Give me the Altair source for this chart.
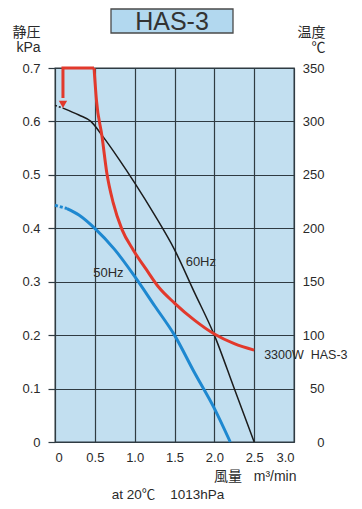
import altair as alt
import pandas as pd

# ---- data ----
flow_black_dot = [0.0, 0.1]
kpa_black_dot = [0.63, 0.625]
flow_black = [0.1, 0.3, 0.45, 0.6, 0.8, 1.0, 1.25, 1.5, 1.75, 2.0, 2.25, 2.5]
kpa_black = [0.625, 0.612, 0.6, 0.572, 0.53, 0.485, 0.425, 0.36, 0.28, 0.2, 0.1, 0.0]

flow_blue_dot = [0.0, 0.15]
kpa_blue_dot = [0.443, 0.437]
flow_blue = [0.15, 0.3, 0.5, 0.75, 1.0, 1.25, 1.5, 1.75, 2.0, 2.2]
kpa_blue = [0.437, 0.425, 0.4, 0.36, 0.31, 0.255, 0.2, 0.13, 0.063, 0.0]

flow_red = [0.49, 0.52, 0.59, 0.65, 0.73, 0.84, 0.98, 1.15, 1.3, 1.5, 1.75, 2.0, 2.25, 2.5]
temp_red = [350, 320, 286, 252, 224, 199, 180, 161, 145, 130, 114, 101, 92, 86]

flow_arrow = [0.1, 0.1, 0.49]
temp_arrow = [322, 350, 350]
arrow_tip_flow = [0.1]
arrow_tip_temp = [316]

x_ticks = [0, 0.5, 1.0, 1.5, 2.0, 2.5, 3.0]
y_ticks = [0, 0.1, 0.2, 0.3, 0.4, 0.5, 0.6, 0.7]
t_ticks = [0, 50, 100, 150, 200, 250, 300, 350]

SP = "\u00a0"
FONT = "Liberation Sans, Noto Sans CJK JP, sans-serif"
BG = "#c2dff0"
GRID = "#2f3b42"
TXT = "#2a2a2a"
RED = "#e2392c"
BLUE = "#1e88d0"
BLACK = "#1c1c1c"

xscale = alt.Scale(domain=[0, 3.0], nice=False, zero=False)
yscale = alt.Scale(domain=[0, 0.7], nice=False)
tscale = alt.Scale(domain=[0, 350], nice=False)

xaxis = alt.Axis(
    values=x_ticks,
    labelExpr="datum.value == 0 ? '0' : format(datum.value, '.1f')",
    grid=True, gridColor=GRID, gridWidth=1.2, gridOpacity=1,
    domain=False, ticks=False, labelPadding=9,
    labelFont=FONT, labelFontSize=13, labelColor=TXT,
    title="風量" + SP * 3 + "m³/min", titleFont=FONT, titleFontSize=14, titleFontWeight="normal",
    titleColor=TXT, titleAlign="right", titleAnchor="start", titleX=241, titleY=27,
    titleBaseline="top",
)
yaxis = alt.Axis(
    values=y_ticks,
    labelExpr="datum.value == 0 ? '0' : format(datum.value, '.1f')",
    grid=True, gridColor=GRID, gridWidth=1.2, gridOpacity=1,
    domain=False, ticks=True, tickSize=7, tickColor=GRID, tickWidth=1.2,
    labelPadding=8, labelFont=FONT, labelFontSize=13, labelColor=TXT,
    title=["静圧", "kPa"], titleFont=FONT, titleFontSize=14, titleFontWeight="normal",
    titleColor=TXT, titleAngle=0, titleAlign="right", titleBaseline="top",
    titleX=-15, titleY=-43, titleLineHeight=15,
)
taxis = alt.Axis(
    orient="right", values=t_ticks, grid=False, domain=False, ticks=False,
    labelAlign="right", labelPadding=30, labelFont=FONT, labelFontSize=13,
    labelColor=TXT,
    title=["温度", "℃"], titleFont=FONT, titleFontSize=14, titleFontWeight="normal",
    titleColor=TXT, titleAngle=0, titleAlign="right", titleBaseline="top",
    titleX=31, titleY=-43, titleLineHeight=15,
)


def seg(xs, ys, key):
    return pd.DataFrame({"flow": xs, key: ys, "i": list(range(len(xs)))})


X = alt.X("flow:Q", scale=xscale, axis=xaxis)

black_dot = alt.Chart(seg(flow_black_dot, kpa_black_dot, "kpa")).mark_line(
    color=BLACK, strokeWidth=1.5, strokeDash=[2, 2]
).encode(x=X, y=alt.Y("kpa:Q", scale=yscale, axis=yaxis), order="i:Q")
black = alt.Chart(seg(flow_black, kpa_black, "kpa")).mark_line(
    color=BLACK, strokeWidth=1.5, interpolate="monotone"
).encode(x=X, y=alt.Y("kpa:Q", scale=yscale, axis=yaxis), order="i:Q")
blue_dot = alt.Chart(seg(flow_blue_dot, kpa_blue_dot, "kpa")).mark_line(
    color=BLUE, strokeWidth=3, strokeDash=[3, 2]
).encode(x=X, y=alt.Y("kpa:Q", scale=yscale, axis=yaxis), order="i:Q")
blue = alt.Chart(seg(flow_blue, kpa_blue, "kpa")).mark_line(
    color=BLUE, strokeWidth=3, interpolate="monotone"
).encode(x=X, y=alt.Y("kpa:Q", scale=yscale, axis=yaxis), order="i:Q")

labels = pd.DataFrame({"flow": [1.64, 0.48], "kpa": [0.337, 0.316], "t": ["60Hz", "50Hz"]})
hz_text = alt.Chart(labels).mark_text(
    align="left", baseline="middle", font=FONT, fontSize=13, color=TXT
).encode(x=X, y=alt.Y("kpa:Q", scale=yscale, axis=yaxis), text="t:N")

title_df = pd.DataFrame({"t": ["HAS-3"]})
title_box = alt.Chart(title_df).mark_rect(
    fill="#b2d8ef", stroke="#4a4a4a", strokeWidth=1.3
).encode(x=alt.value(56), x2=alt.value(178), y=alt.value(-59), y2=alt.value(-35))
title_txt = alt.Chart(title_df).mark_text(
    font=FONT, fontSize=25, color="#333333", baseline="middle", align="center"
).encode(x=alt.value(117), y=alt.value(-46), text="t:N")

foot_df = pd.DataFrame({"t": ["at 20℃" + SP * 4 + "1013hPa"]})
foot = alt.Chart(foot_df).mark_text(
    font=FONT, fontSize=13.5, color=TXT, baseline="middle", align="center"
).encode(x=alt.value(113), y=alt.value(427), text="t:N")

pressure = alt.layer(black_dot, black, blue_dot, blue, hz_text, title_box, title_txt, foot)

red_arrow = alt.Chart(seg(flow_arrow, temp_arrow, "temp")).mark_line(
    color=RED, strokeWidth=3
).encode(x=X, y=alt.Y("temp:Q", scale=tscale, axis=taxis), order="i:Q")
arrow_tip = alt.Chart(pd.DataFrame({"flow": arrow_tip_flow, "temp": arrow_tip_temp})).mark_point(
    shape="triangle-down", filled=True, color=RED, size=70, opacity=1
).encode(x=X, y=alt.Y("temp:Q", scale=tscale, axis=taxis))
red = alt.Chart(seg(flow_red, temp_red, "temp")).mark_line(
    color=RED, strokeWidth=3, interpolate="monotone"
).encode(x=X, y=alt.Y("temp:Q", scale=tscale, axis=taxis), order="i:Q")
w_df = pd.DataFrame({"flow": [flow_red[-1]], "temp": [temp_red[-1]], "t": ["3300W" + SP * 2 + "HAS-3"]})
w_text = alt.Chart(w_df).mark_text(
    align="left", baseline="middle", dx=10, dy=5, font=FONT, fontSize=12.5, color=TXT
).encode(x=X, y=alt.Y("temp:Q", scale=tscale, axis=taxis), text="t:N")

temperature = alt.layer(red_arrow, red, arrow_tip, w_text)

chart = alt.layer(pressure, temperature).resolve_scale(y="independent").properties(
    width=239, height=374, autosize="none",
    padding={"left": 47, "top": 60, "right": 60, "bottom": 59},
    background="white",
).configure_view(fill=BG, stroke=GRID, strokeWidth=1.3)

chart.save("out.html", embed_options={"renderer": "svg", "actions": False})
